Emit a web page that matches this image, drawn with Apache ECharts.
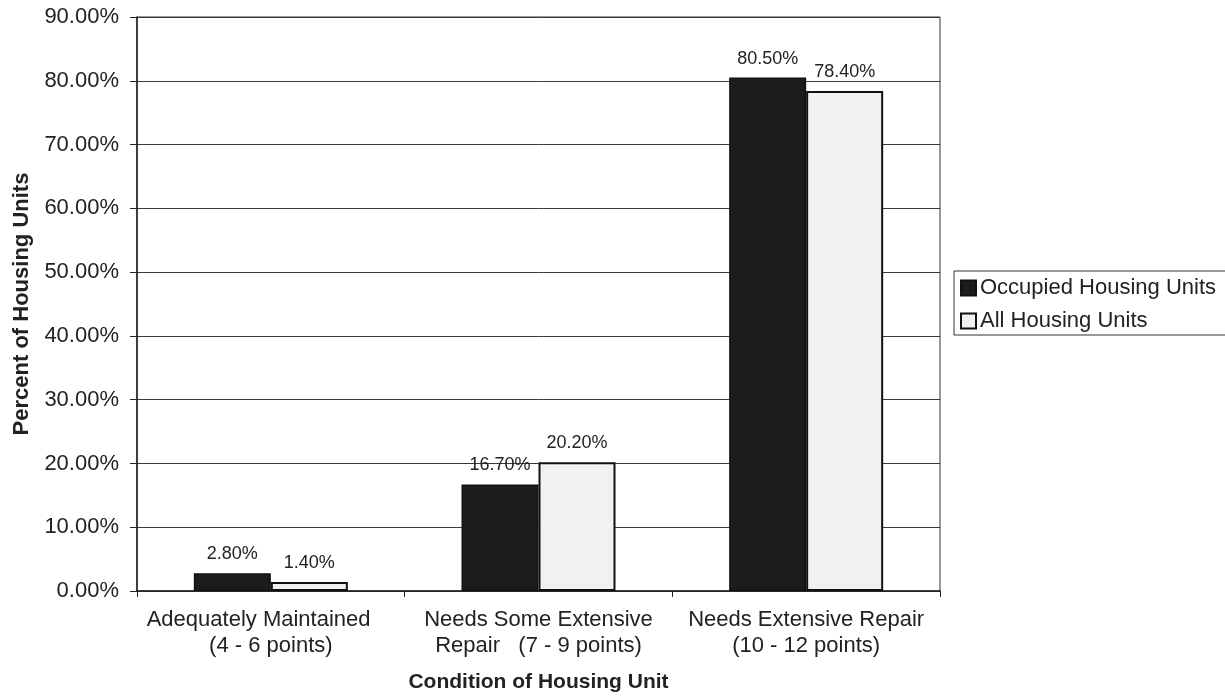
<!DOCTYPE html>
<html>
<head>
<meta charset="utf-8">
<title>Condition of Housing Unit</title>
<script src="https://cdn.jsdelivr.net/npm/echarts@6/dist/echarts.min.js"></script>
<style>
  html, body { margin: 0; padding: 0; background: #ffffff; }
  #chart { width: 1225px; height: 698px; }
</style>
</head>
<body>
<div id="chart"></div>
<script>
// Housing condition score bands
const categories = [
  'Adequately Maintained    \n(4 - 6 points)',
  'Needs Some Extensive\nRepair   (7 - 9 points)',
  'Needs Extensive Repair\n(10 - 12 points)'
];
const seriesNames = ['Occupied Housing Units', 'All Housing Units'];
// Percent of housing units in each band
const occupiedValues = [2.8, 16.7, 80.5];
const allValues = [1.4, 20.2, 78.4];
// Value axis range and tick step (percent)
const yMin = 0;
const yMax = 90;
const yStep = 10;

const FONT = '"Liberation Sans", Arial, Helvetica, sans-serif';
const TEXT = '#222222';

const chart = echarts.init(document.getElementById('chart'), null, { renderer: 'canvas' });

const labelStyle = {
  show: true,
  position: 'top',
  distance: 10,
  fontFamily: FONT,
  fontSize: 18,
  color: TEXT,
  formatter: p => p.value.toFixed(2) + '%'
};

chart.setOption({
  animation: false,
  backgroundColor: '#ffffff',
  grid: {
    left: 137, right: 285, top: 17, bottom: 107,
    show: true,
    borderColor: '#333333',
    borderWidth: 1,
    backgroundColor: 'transparent'
  },
  legend: {
    orient: 'vertical',
    left: 954,
    top: 271,
    padding: [6, 30, 3, 6],
    itemGap: 11,
    itemWidth: 15,
    itemHeight: 15,
    icon: 'rect',
    borderColor: '#333333',
    borderWidth: 1,
    textStyle: { fontFamily: FONT, fontSize: 22, color: TEXT, padding: [0, 0, 0, -1] },
    data: seriesNames
  },
  xAxis: {
    type: 'category',
    data: categories,
    name: 'Condition of Housing Unit',
    nameLocation: 'middle',
    nameGap: 81,
    nameTextStyle: { fontFamily: FONT, fontSize: 21, fontWeight: 'bold', color: TEXT },
    axisLine: { lineStyle: { color: '#222222', width: 1.5 } },
    axisTick: { show: true, length: 6, alignWithLabel: false, lineStyle: { color: '#222222' } },
    axisLabel: {
      margin: 16,
      fontFamily: FONT, fontSize: 22, color: TEXT,
      lineHeight: 26, align: 'center', interval: 0
    },
    splitLine: { show: false }
  },
  yAxis: {
    type: 'value',
    min: yMin,
    max: yMax,
    interval: yStep,
    name: 'Percent of Housing Units',
    nameLocation: 'middle',
    nameGap: 104,
    nameRotate: 90,
    nameTextStyle: { fontFamily: FONT, fontSize: 22, fontWeight: 'bold', color: TEXT },
    axisLine: { show: true, lineStyle: { color: '#222222', width: 1.5 } },
    axisTick: { show: true, inside: false, length: 7, lineStyle: { color: '#222222' } },
    axisLabel: {
      margin: 18,
      fontFamily: FONT, fontSize: 22, color: TEXT,
      formatter: v => v.toFixed(2) + '%'
    },
    splitLine: { show: true, lineStyle: { color: '#3a3a3a', width: 1 } }
  },
  series: [
    {
      name: seriesNames[0],
      type: 'bar',
      data: occupiedValues,
      barWidth: 77,
      barGap: '0%',
      itemStyle: { color: '#1c1c1c', borderColor: '#111111', borderWidth: 1.5 },
      label: labelStyle
    },
    {
      name: seriesNames[1],
      type: 'bar',
      data: allValues,
      barWidth: 77,
      barGap: '0%',
      itemStyle: { color: '#f1f1f1', borderColor: '#111111', borderWidth: 2 },
      label: labelStyle
    }
  ]
});
</script>
</body>
</html>
